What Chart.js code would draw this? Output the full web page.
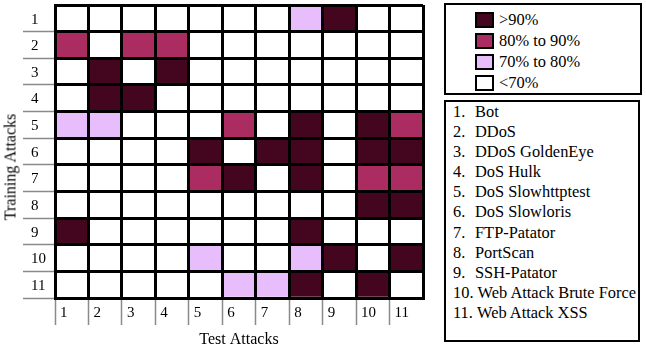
<!DOCTYPE html>
<html>
<head>
<meta charset="utf-8">
<script src="https://cdn.jsdelivr.net/npm/chart.js@4"></script>
<style>
  body { margin: 0; background: #fff; }
  #page { position: relative; width: 646px; height: 352px; font-family: 'Liberation Serif', 'Times New Roman', serif; color: #000; }
  #plot { position: absolute; left: 0; top: 0; width: 432px; height: 352px; }
  #y-title { position: absolute; left: 10px; top: 167px; transform: translate(-50%, -50%) rotate(-90deg); white-space: nowrap; font-size: 16px; line-height: 19px; }
  .box { position: absolute; box-sizing: border-box; border: 2px solid #000; background: #fff; }
  #band-box { left: 444px; top: 3px; width: 198px; height: 92px; padding: 4px 0 0 29px; }
  #band-box .item { height: 21px; display: flex; align-items: center; font-size: 16.4px; white-space: nowrap; }
  #band-box .swatch { box-sizing: border-box; width: 19px; height: 16px; border: 2px solid #000; margin-right: 5px; flex: none; }
  #name-box { left: 444px; top: 100px; width: 196px; height: 242px; padding: 0 0 0 7px; }
  #name-box .item { height: 20.1px; line-height: 20px; font-size: 16.4px; white-space: nowrap; }
  #name-box .num { display: inline-block; min-width: 22px; }
</style>
</head>
<body>
<div id="page">
  <div id="plot"><canvas id="heatmap" width="432" height="352"></canvas></div>
  <div id="y-title">Training Attacks</div>
  <div id="band-box" class="box"></div>
  <div id="name-box" class="box"></div>
</div>
<script>
// columns = test attacks, rows = training attacks (1 = top row)
const testAttacks = ['1', '2', '3', '4', '5', '6', '7', '8', '9', '10', '11'];
const trainingAttacks = ['1', '2', '3', '4', '5', '6', '7', '8', '9', '10', '11'];
const attackNames = ['Bot', 'DDoS', 'DDoS GoldenEye', 'DoS Hulk', 'DoS Slowhttptest', 'DoS Slowloris',
  'FTP-Patator', 'PortScan', 'SSH-Patator', 'Web Attack Brute Force', 'Web Attack XSS'];

const bandLabels = ['>90%', '80% to 90%', '70% to 80%', '<70%'];
const bandColors = ['#44061f', '#ab2c61', '#e7bdfb', '#ffffff'];

// band index of each cell (0 = >90%, 1 = 80-90%, 2 = 70-80%, 3 = <70%)
const bands = [
  [3, 3, 3, 3, 3, 3, 3, 2, 0, 3, 3],
  [1, 3, 1, 1, 3, 3, 3, 3, 3, 3, 3],
  [3, 0, 3, 0, 3, 3, 3, 3, 3, 3, 3],
  [3, 0, 0, 3, 3, 3, 3, 3, 3, 3, 3],
  [2, 2, 3, 3, 3, 1, 3, 0, 3, 0, 1],
  [3, 3, 3, 3, 0, 3, 0, 0, 3, 0, 0],
  [3, 3, 3, 3, 1, 0, 3, 0, 3, 1, 1],
  [3, 3, 3, 3, 3, 3, 3, 3, 3, 0, 0],
  [0, 3, 3, 3, 3, 3, 3, 0, 3, 3, 3],
  [3, 3, 3, 3, 2, 3, 3, 2, 0, 3, 0],
  [3, 3, 3, 3, 3, 2, 2, 0, 3, 0, 3]
];

// legends
const bandBox = document.getElementById('band-box');
bandLabels.forEach((label, i) => {
  const item = document.createElement('div');
  item.className = 'item';
  const sw = document.createElement('span');
  sw.className = 'swatch';
  sw.style.background = bandColors[i];
  const txt = document.createElement('span');
  txt.textContent = label;
  item.appendChild(sw);
  item.appendChild(txt);
  bandBox.appendChild(item);
});

const nameBox = document.getElementById('name-box');
attackNames.forEach((name, i) => {
  const item = document.createElement('div');
  item.className = 'item';
  item.innerHTML = '<span class="num">' + (i + 1) + '.&nbsp;</span>' + name;
  nameBox.appendChild(item);
});

// one stacked dataset per training row, bottom row first
const n = trainingAttacks.length;
const datasets = [];
for (let r = n - 1; r >= 0; r--) {
  datasets.push({
    label: trainingAttacks[r],
    data: testAttacks.map((_, c) => ({ x: c + 0.5, y: 1 })),
    backgroundColor: bands[r].map(b => bandColors[b]),
    borderWidth: 0,
    barPercentage: 1,
    categoryPercentage: 1
  });
}

const tickGray = '#8a8a8a';
const font = { family: "'Liberation Serif', 'Times New Roman', serif", size: 15 };

new Chart(document.getElementById('heatmap'), {
  type: 'bar',
  data: { datasets },
  options: {
    responsive: false,
    animation: false,
    layout: { padding: { left: 0, right: 9, top: 5, bottom: 0 } },
    plugins: { legend: { display: false }, tooltip: { enabled: false } },
    scales: {
      x: {
        type: 'linear',
        stacked: true,
        offset: false,
        min: 0,
        max: testAttacks.length,
        afterFit: s => { s.height = 54; },
        grid: {
          offset: false,
          color: '#000', lineWidth: 3, z: 1,
          tickLength: 27, tickWidth: 1.5,
          tickColor: ctx => ctx.tick && ctx.tick.value >= testAttacks.length ? 'rgba(0,0,0,0)' : tickGray
        },
        border: { color: '#000', width: 3, z: 1 },
        ticks: {
          stepSize: 1, autoSkip: false, maxRotation: 0,
          align: 'start', labelOffset: 5, padding: -21,
          color: '#000', font,
          callback: v => v < testAttacks.length ? testAttacks[v] : ''
        },
        title: {
          display: true, text: 'Test Attacks', color: '#000',
          font: { family: font.family, size: 16 },
          padding: { top: 0, bottom: 3 }
        }
      },
      y: {
        stacked: true,
        min: 0,
        max: n,
        afterFit: s => { s.width = 55; },
        grid: {
          color: '#000', lineWidth: 3, z: 1,
          tickLength: 32, tickWidth: 1.5,
          tickColor: ctx => ctx.tick && ctx.tick.value >= n ? 'rgba(0,0,0,0)' : tickGray
        },
        border: { color: '#000', width: 3, z: 1 },
        ticks: {
          stepSize: 1, autoSkip: false,
          mirror: true, padding: -24, labelOffset: -12,
          color: '#000', font,
          callback: v => v < n ? trainingAttacks[n - 1 - v] : ''
        }
      }
    }
  }
});
</script>
</body>
</html>
